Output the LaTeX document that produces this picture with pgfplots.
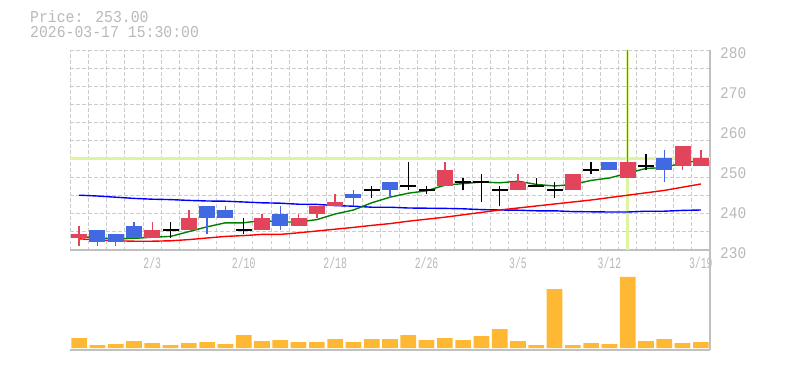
\documentclass[border=0pt]{standalone}
\usepackage{graphicx}
\usepackage{pgfplots}
\pgfplotsset{compat=1.18}
\usepackage{pgfplotstable}
\usepackage{fontspec}
\newfontfamily\pixfont{Liberation Mono}
\definecolor{candleup}{RGB}{226,68,92}
\definecolor{candledn}{RGB}{65,105,225}
\definecolor{gridc}{RGB}{204,204,204}
\definecolor{axisc}{RGB}{192,192,192}
\definecolor{txtc}{RGB}{185,185,185}
\definecolor{crossc}{RGB}{222,245,160}
\definecolor{volc}{RGB}{254,184,52}
\definecolor{maG}{RGB}{0,128,0}
\definecolor{maR}{RGB}{255,0,0}
\definecolor{maB}{RGB}{0,0,255}
\newcommand\sx[1]{\scalebox{1}[1.6]{#1}}

% up candles (close > open)
\pgfplotstableread{
x o h l c
0 233 236 231 234
4 233 237 233 235
6 235 240 235 238
10 235 239 235 238
12 236 239 236 238
13 239 241 238 241
14 241 244 241 242
20 246 252 246 250
24 245 249 245 247
27 245 249 245 249
30 248 280 248 252
33 251 256 250 256
34 251 255 251 253
}\upcandles
% down candles (close < open)
\pgfplotstableread{
x o h l c
1 235 235 231 232
2 234 234 231 232
3 236 237 233 233
7 241 241 234 238
8 240 241 238 238
11 239 241 235 236
15 244 245 241 243
17 247 247 243 245
29 252 252 250 250
32 253 255 247 250
}\dncandles
% doji (close = open)
\pgfplotstableread{
x o h l c
5 235 237 233 235
9 235 238 234 235
16 245 246 243 245
18 246 252 245 246
19 245 246 244 245
21 247 248 245 247
22 247 249 242 247
23 245 246 241 245
25 246 248 246 246
26 245 247 243 245
28 250 252 249 250
31 251 254 250 251
}\dojicandles
% moving averages
\pgfplotstableread{
i g r b
0 233.4 232.8 243.7
1 233.0 232.5 243.5
2 232.8 232.3 243.2
3 232.9 232.2 242.9
4 233.2 232.2 242.7
5 233.4 232.3 242.6
6 234.6 232.6 242.4
7 235.8 233.0 242.25
8 236.8 233.4 242.2
9 236.8 233.6 242.0
10 237.4 233.9 241.8
11 237.0 233.9 241.7
12 237.0 234.3 241.45
13 237.6 234.75 241.4
14 239.0 235.2 241.1
15 240.0 235.65 240.95
16 241.8 236.15 240.7
17 243.2 236.6 240.7
18 244.2 237.2 240.5
19 244.8 237.7 240.45
20 246.2 238.2 240.4
21 246.6 238.8 240.3
22 247.0 239.4 240.1
23 246.8 240.0 240.0
24 247.2 240.5 239.95
25 246.4 241.0 239.8
26 246.0 241.5 239.8
27 246.4 242.0 239.6
28 247.4 242.5 239.55
29 248.0 243.1 239.5
30 249.2 243.7 239.5
31 250.4 244.3 239.7
32 250.6 244.9 239.7
33 251.8 245.7 239.9
34 252.4 246.5 240.0
}\mas
% volume
\pgfplotstableread{
i v
0 30
1 9
2 12
3 21
4 15
5 9
6 15
7 18
8 12
9 39
10 21
11 24
12 18
13 18
14 27
15 18
16 27
17 27
18 39
19 24
20 30
21 24
22 36
23 57
24 21
25 9
26 177
27 9
28 15
29 12
30 214
31 21
32 27
33 15
34 18
}\vols

\pgfplotsset{
  commonstyle/.style={
    scale only axis, width=640pt,
    xmin=-0.5, xmax=34.5,
    axis x line*=bottom, axis y line*=right,
    axis line style={draw=axisc, line width=1.2pt},
    minor xtick={-0.5,0.5,...,34.5},
    xminorgrids=true,
    minor grid style={draw=gridc, dash pattern=on 3.5pt off 2.5pt, line width=1pt},
    major tick length=0pt, minor tick length=0pt,
    tick style={draw=none},
  },
  wickstyle/.style={draw=none, mark=none, forget plot,
    error bars/.cd, y dir=plus, y explicit, error mark=none,
    error bar style={draw=#1, line width=1.5pt}},
  bodystyle/.style={draw=none, mark=none, forget plot,
    error bars/.cd, y dir=plus, y explicit, error mark=none,
    error bar style={draw=#1, line width=16pt}},
}

\begin{document}
\begin{tikzpicture}
\useasboundingbox (0pt,0pt) rectangle (785pt,370pt);

\node[anchor=base west, inner sep=0pt, text=txtc, font=\pixfont\fontsize{14.8}{16}\selectfont] at (30pt,347.7pt) {\scalebox{1}[1.12]{Price: 253.00}};
\node[anchor=base west, inner sep=0pt, text=txtc, font=\pixfont\fontsize{14.8}{16}\selectfont] at (30pt,332.7pt) {\scalebox{1}[1.12]{2026-03-17 15:30:00}};

% price axis
\begin{axis}[commonstyle,
  at={(70pt,120pt)}, anchor=south west, height=200pt,
  ymin=230, ymax=280,
  xtick={4,9,...,34},
  xticklabels={\sx{2/3},\sx{2/10},\sx{2/18},\sx{2/26},\sx{3/5},\sx{3/12},\sx{3/19}},
  ytick={230,240,...,280},
  minor ytick={230,234.54545,239.09091,243.63636,248.18182,252.72727,257.27273,261.81818,266.36364,270.90909,275.45455,280},
  yminorgrids=true,
  /pgf/number format/assume math mode=true,
  yticklabel={\scalebox{1}[1.12]{\pgfmathprintnumber[fixed,precision=0]{\tick}}},
  xticklabel style={font=\pixfont\fontsize{9.8}{10}\selectfont, text=txtc, anchor=north, inner sep=0pt, yshift=-7pt},
  yticklabel style={font=\pixfont\fontsize{14.5}{15}\selectfont, text=txtc, anchor=west, inner sep=0pt, xshift=10pt, yshift=-3.3pt},
]
% crosshair
\addplot[crossc, line width=3pt, forget plot] coordinates {(-0.5,253) (34.5,253)};
\addplot[crossc, line width=3.3pt, forget plot] coordinates {(30,230) (30,280)};
% moving averages
\addplot[maB, line width=1.4pt] table[x=i, y=b] {\mas};
\addplot[maR, line width=1.4pt] table[x=i, y=r] {\mas};
\addplot[maG, line width=1.4pt] table[x=i, y=g] {\mas};
% up candles
\addplot[wickstyle=candleup] table[x=x, y=l, y error plus expr=\thisrow{h}-\thisrow{l}, y error minus expr=0] {\upcandles};
\addplot[bodystyle=candleup] table[x=x, y=o, y error plus expr=\thisrow{c}-\thisrow{o}, y error minus expr=0] {\upcandles};
% down candles
\addplot[wickstyle=candledn] table[x=x, y=l, y error plus expr=\thisrow{h}-\thisrow{l}, y error minus expr=0] {\dncandles};
\addplot[bodystyle=candledn] table[x=x, y=c, y error plus expr=\thisrow{o}-\thisrow{c}, y error minus expr=0] {\dncandles};
% doji
\addplot[wickstyle=black] table[x=x, y=l, y error plus expr=\thisrow{h}-\thisrow{l}, y error minus expr=0] {\dojicandles};
\addplot[only marks, mark=-, mark size=8pt, mark options={draw=black, line width=1.5pt}, forget plot] table[x=x, y=c] {\dojicandles};
\end{axis}

% volume axis
\begin{axis}[commonstyle,
  at={(70pt,20pt)}, anchor=south west, height=100pt,
  ymin=-6, ymax=295,
  xtick=\empty, ytick=\empty,
]
\addplot[ybar, bar width=15.7pt, fill=volc, draw=none] table[x=i, y=v] {\vols};
\end{axis}
\end{tikzpicture}
\end{document}
